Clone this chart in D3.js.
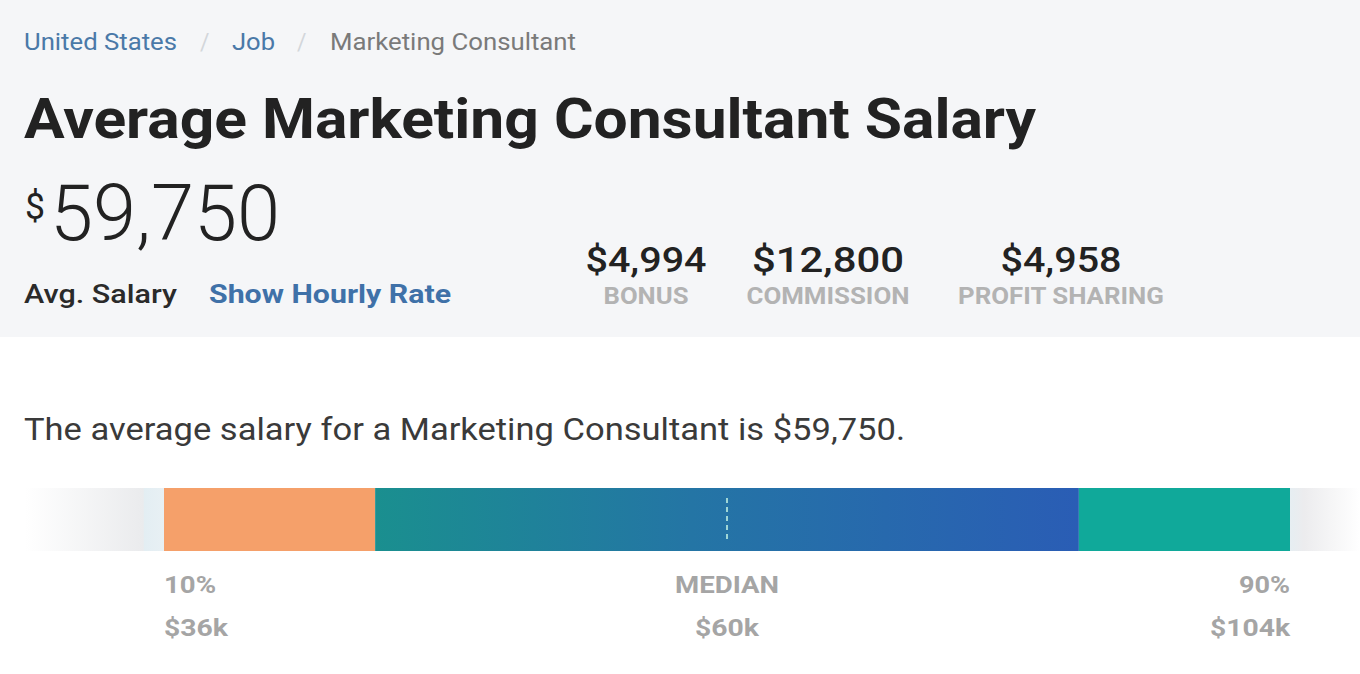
<!DOCTYPE html>
<html><head><meta charset="utf-8">
<script src="https://cdn.jsdelivr.net/npm/d3@7"></script>
<style>
html,body{margin:0;padding:0;background:#fff;}
svg{display:block;font-family:Roboto,"Noto Sans",sans-serif;}
</style></head>
<body><svg id="c" width="1360" height="674"></svg>
<script>
const breadcrumb = ["United States", "Job", "Marketing Consultant"];
const title = "Average Marketing Consultant Salary";
const avgSalary = "59,750";
const extrasLabels = ["BONUS", "COMMISSION", "PROFIT SHARING"];
const extrasValues = ["$4,994", "$12,800", "$4,958"];
const sentence = "The average salary for a Marketing Consultant is $59,750.";
const segFrom = [10, 25, 75];
const segTo = [25, 75, 90];
const markerPct = [10, 50, 90];
const markerNames = ["10%", "MEDIAN", "90%"];
const markerValues = ["$36k", "$60k", "$104k"];

const svg = d3.select("#c");
const W = 1360, H = 674;

function txt(x, y, s, size, weight, fill, len, anchor) {
  const t = svg.append("text").attr("x", x).attr("y", y).attr("font-size", size)
    .attr("font-weight", weight).attr("fill", fill).attr("text-anchor", anchor || "start").text(s);
  if (len) t.attr("textLength", len).attr("lengthAdjust", "spacingAndGlyphs");
  return t;
}

// header background
svg.append("rect").attr("x",0).attr("y",0).attr("width",W).attr("height",337).attr("fill","#f5f6f8");

// breadcrumb
txt(24, 50, breadcrumb[0], 23, 400, "#4a79a8", 153);
txt(200, 50, "/", 23, 400, "#d3d6db");
txt(232, 50, breadcrumb[1], 23, 400, "#4a79a8", 43);
txt(297, 50, "/", 23, 400, "#d3d6db");
txt(330, 50, breadcrumb[2], 23, 400, "#7a7a7a", 246);

txt(24, 138, title, 55, 700, "#222", 1012);

// big salary
txt(25, 219, "$", 36, 400, "#222", 20);
txt(50, 240, avgSalary, 77, 300, "#222", 230);

txt(24, 303, "Avg. Salary", 26, 500, "#2a2a2a", 153);
txt(209, 303, "Show Hourly Rate", 26, 700, "#3f71a8", 242);

const exX = [646, 828, 1061];
const exVW = [121, 152, 121];
const exLW = [85, 163, 206];
svg.selectAll("text.v").data(extrasValues).join("text").attr("class","v")
  .attr("x",(d,i)=>exX[i]).attr("y",272).attr("text-anchor","middle")
  .attr("font-size",35).attr("font-weight",500).attr("fill","#222")
  .attr("textLength",(d,i)=>exVW[i]).attr("lengthAdjust","spacingAndGlyphs").text(d=>d);
svg.selectAll("text.l").data(extrasLabels).join("text").attr("class","l")
  .attr("x",(d,i)=>exX[i]).attr("y",304).attr("text-anchor","middle")
  .attr("font-size",24).attr("font-weight",700).attr("fill","#b3b3b3")
  .attr("textLength",(d,i)=>exLW[i]).attr("lengthAdjust","spacingAndGlyphs").text(d=>d);

txt(24, 440, sentence, 31, 400, "#3a3a3a", 881);

// bar
const x = d3.scaleLinear().domain([10,90]).range([164,1290]);
const by = 488, bh = 63;
const defs = svg.append("defs");
const lf = defs.append("linearGradient").attr("id","lf");
lf.append("stop").attr("offset","0").attr("stop-color","#ffffff");
lf.append("stop").attr("offset","0.85").attr("stop-color","#eaebed");
lf.append("stop").attr("offset","0.86").attr("stop-color","#e3eef3");
lf.append("stop").attr("offset","1").attr("stop-color","#e8f0f4");
const rf = defs.append("linearGradient").attr("id","rf");
rf.append("stop").attr("offset","0").attr("stop-color","#e6eef2");
rf.append("stop").attr("offset","0.2").attr("stop-color","#ececee");
rf.append("stop").attr("offset","1").attr("stop-color","#ffffff");
const mg = defs.append("linearGradient").attr("id","mg");
mg.append("stop").attr("offset","0").attr("stop-color","#1a8f8f");
mg.append("stop").attr("offset","0.45").attr("stop-color","#2475a5");
mg.append("stop").attr("offset","1").attr("stop-color","#2a5db5");

svg.append("rect").attr("x",25).attr("y",by).attr("width",x(10)-25).attr("height",bh).attr("fill","url(#lf)");
svg.append("rect").attr("x",x(90)).attr("y",by).attr("width",W-x(90)).attr("height",bh).attr("fill","url(#rf)");

const segColors = ["#f5a06a", "url(#mg)", "#10a99a"];
svg.selectAll("rect.seg").data(segFrom).join("rect").attr("class","seg")
  .attr("x",d=>x(d)).attr("y",by).attr("width",(d,i)=>x(segTo[i])-x(d)).attr("height",bh)
  .attr("fill",(d,i)=>segColors[i]);

svg.append("line").attr("x1",x(50)).attr("x2",x(50)).attr("y1",by+10).attr("y2",by+bh-8)
  .attr("stroke","#9fd6d6").attr("stroke-width",2).attr("stroke-dasharray","5,4");

const anchors = ["start","middle","end"];
const mnW = [52, 104, 51];
const mvW = [64, 64, 80];
svg.selectAll("text.mn").data(markerNames).join("text").attr("class","mn")
  .attr("x",(d,i)=>x(markerPct[i])).attr("y",593).attr("text-anchor",(d,i)=>anchors[i])
  .attr("font-size",24).attr("font-weight",700).attr("fill","#a5a5a5")
  .attr("textLength",(d,i)=>mnW[i]).attr("lengthAdjust","spacingAndGlyphs").text(d=>d);
svg.selectAll("text.mv").data(markerValues).join("text").attr("class","mv")
  .attr("x",(d,i)=>x(markerPct[i])).attr("y",636).attr("text-anchor",(d,i)=>anchors[i])
  .attr("font-size",24).attr("font-weight",700).attr("fill","#a5a5a5")
  .attr("textLength",(d,i)=>mvW[i]).attr("lengthAdjust","spacingAndGlyphs").text(d=>d);
</script></body></html>
